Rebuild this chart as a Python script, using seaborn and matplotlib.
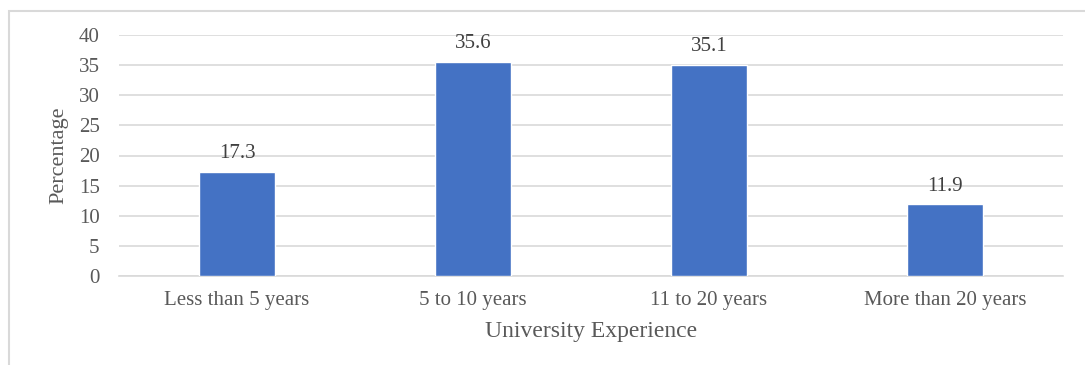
import matplotlib
matplotlib.use("Agg")
import matplotlib.pyplot as plt
import seaborn as sns
import pandas as pd
from matplotlib.patches import Rectangle

categories = ["Less than 5 years", "5 to 10 years", "11 to 20 years", "More than 20 years"]
percentages = [17.3, 35.6, 35.1, 11.9]
y_ticks = [0, 5, 10, 15, 20, 25, 30, 35, 40]

df = pd.DataFrame({"experience": categories, "percentage": percentages})

sns.set_theme(style="white")
plt.rcParams["font.family"] = ["Liberation Serif", "DejaVu Serif"]

W, H = 1085, 365
fig = plt.figure(figsize=(W / 100, H / 100), dpi=100)
ax = fig.add_axes([119 / W, 1 - 276 / H, (1063 - 119) / W, (276 - 35) / H])

text_color = "#595959"
sns.barplot(data=df, x="experience", y="percentage", color="#4472C4",
            width=0.32, saturation=1, ax=ax, zorder=3)

ax.set_ylim(0, 40)
ax.set_yticks(y_ticks)
ax.set_xlim(-0.5, len(categories) - 0.5)
ax.yaxis.grid(True, color="#d9d9d9", linewidth=1.2, zorder=0)
ax.set_axisbelow(True)
for side in ["top", "right", "left"]:
    ax.spines[side].set_visible(False)
ax.spines["bottom"].set_color("#d9d9d9")
ax.spines["bottom"].set_linewidth(1.2)
ax.tick_params(axis="both", length=0, labelsize=15, labelcolor=text_color)
ax.tick_params(axis="y", pad=14)
ax.tick_params(axis="x", pad=11)

ax.set_xlabel("University Experience", fontsize=17, color=text_color, labelpad=8)
ax.set_ylabel("Percentage", fontsize=16, color=text_color, labelpad=7)

for container in ax.containers:
    ax.bar_label(container, labels=[f"{v:.1f}" for v in percentages],
                 padding=6, fontsize=15, color="#404040")

# light frame around the chart area
fig.add_artist(Rectangle((9 / W, -0.1), 1.2, 1 - 11 / H + 0.1,
                         transform=fig.transFigure, fill=False,
                         edgecolor="#d9d9d9", linewidth=1.5))

fig.savefig("out.png", dpi=100)
